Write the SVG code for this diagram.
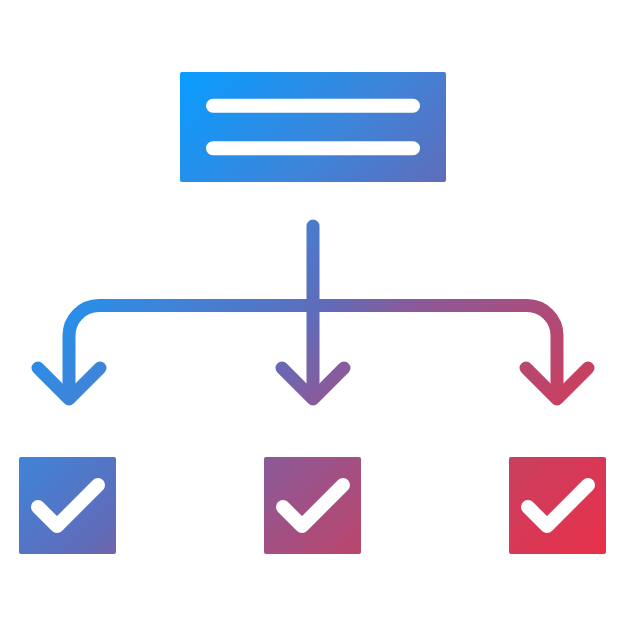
<svg xmlns="http://www.w3.org/2000/svg" width="626" height="626" viewBox="0 0 626 626">
<defs>
<linearGradient id="g" gradientUnits="userSpaceOnUse" x1="130" y1="130" x2="580" y2="580">
<stop offset="0" stop-color="#0a9cff"/>
<stop offset="0.24" stop-color="#3f84d8"/>
<stop offset="0.41" stop-color="#5f6cba"/>
<stop offset="0.51" stop-color="#8a5a9a"/>
<stop offset="0.78" stop-color="#c84060"/>
<stop offset="1" stop-color="#e8304a"/>
</linearGradient>
</defs>
<style>
.fill{fill:url(#g)}
.wire{fill:none;stroke:url(#g);stroke-width:13;stroke-linecap:round;stroke-linejoin:round}
.white{fill:none;stroke:#fff;stroke-width:14;stroke-linecap:round;stroke-linejoin:round}
</style>
<rect width="626" height="626" fill="#fff"/>
<g id="connectors">
<path class="wire" d="M313 226 V398"/>
<path class="wire" d="M313 305.5 H99 A30 30 0 0 0 69 335.5 V398"/>
<path class="wire" d="M313 305.5 H527 A30 30 0 0 1 557 335.5 V398"/>
<path class="wire" d="M38 368 L69 399 L100 368"/>
<path class="wire" d="M282 368 L313 399 L344 368"/>
<path class="wire" d="M526 368 L557 399 L588 368"/>
</g>
<g id="header">
<rect class="fill" x="180" y="72" width="266" height="110" rx="2"/>
<path class="white" d="M213 105.7 H413 M213 148.3 H413"/>
</g>
<g id="option1">
<rect class="fill" x="19" y="457" width="97" height="97" rx="2"/>
<path class="white" d="M38 507 L57 526 L98 485"/>
</g>
<g id="option2">
<rect class="fill" x="264" y="457" width="97" height="97" rx="2"/>
<path class="white" d="M283 507 L302 526 L343 485"/>
</g>
<g id="option3">
<rect class="fill" x="509" y="457" width="97" height="97" rx="2"/>
<path class="white" d="M528 507 L547 526 L588 485"/>
</g>
</svg>
